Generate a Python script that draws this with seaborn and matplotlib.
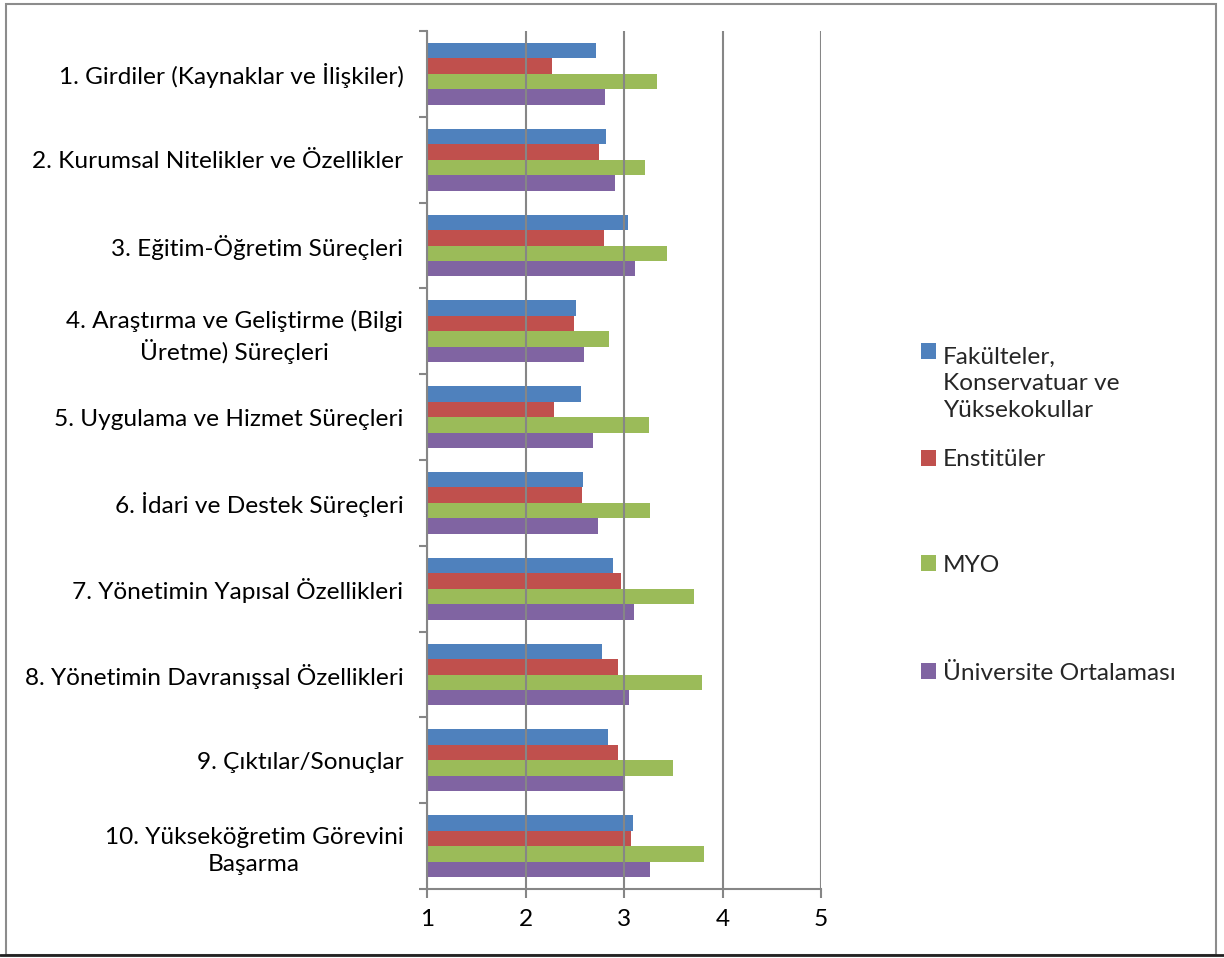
import pandas as pd
import matplotlib
matplotlib.use("Agg")
import matplotlib.pyplot as plt
import matplotlib.patches as mpatches
from matplotlib.lines import Line2D
from matplotlib.legend_handler import HandlerPatch
from matplotlib.ticker import FixedLocator
import seaborn as sns

# data
categories = [
    "1. Girdiler (Kaynaklar ve İlişkiler)",
    "2. Kurumsal Nitelikler ve Özellikler",
    "3. Eğitim-Öğretim Süreçleri",
    "4. Araştırma ve Geliştirme (Bilgi\nÜretme) Süreçleri",
    "5. Uygulama ve Hizmet Süreçleri",
    "6. İdari ve Destek Süreçleri",
    "7. Yönetimin Yapısal Özellikleri",
    "8. Yönetimin Davranışsal Özellikleri",
    "9. Çıktılar/Sonuçlar",
    "10. Yükseköğretim Görevini\nBaşarma",
]
series_names = [
    "Fakülteler,\nKonservatuar ve\nYüksekokullar",
    "Enstitüler",
    "MYO",
    "Üniversite Ortalaması",
]
fakulteler = [2.72, 2.82, 3.04, 2.51, 2.56, 2.58, 2.89, 2.78, 2.84, 3.09]
enstituler = [2.27, 2.75, 2.80, 2.49, 2.29, 2.57, 2.97, 2.94, 2.94, 3.07]
myo = [3.33, 3.21, 3.44, 2.85, 3.25, 3.26, 3.71, 3.79, 3.50, 3.81]
universite = [2.81, 2.91, 3.11, 2.59, 2.69, 2.74, 3.10, 3.05, 3.01, 3.26]
x_ticks = [1, 2, 3, 4, 5]

colors = ["#4F81BD", "#C0504D", "#9BBB59", "#8064A2"]
grid_color = "#868686"
font_size = 17.6
line_gap = 1.34

# long table for seaborn
rows = []
for name, vals in zip(series_names, [fakulteler, enstituler, myo, universite]):
    for cat, v in zip(categories, vals):
        rows.append({"category": cat, "series": name, "value": v})
df = pd.DataFrame(rows)

sns.set_theme(style="white")
plt.rcParams["font.family"] = ["Lato", "DejaVu Sans"]

W, H = 1224, 958
fig = plt.figure(figsize=(W / 100, H / 100), dpi=100)
ax = fig.add_axes([427 / W, 1 - 889 / H, 394 / W, 858 / H])

sns.barplot(data=df, x="value", y="category", hue="series", order=categories,
            hue_order=series_names, palette=colors, orient="h", width=0.72,
            saturation=1, errorbar=None, legend=False, linewidth=0, ax=ax)

ax.set_xlim(1, 5)
ax.set_ylim(len(categories) - 0.5, -0.5)
ax.set_xticks(x_ticks)
ax.set_xlabel("")
ax.set_ylabel("")

ax.xaxis.grid(True, color=grid_color, linewidth=1.5)
ax.yaxis.grid(False)
ax.set_axisbelow(False)

for side in ["top", "right"]:
    ax.spines[side].set_visible(False)
for side in ["left", "bottom"]:
    ax.spines[side].set_color(grid_color)
    ax.spines[side].set_linewidth(1.5)

ax.tick_params(axis="x", bottom=True, direction="out", length=6.5, width=1.5,
               color=grid_color, pad=8, labelsize=font_size, labelcolor="black")
ax.tick_params(axis="y", which="major", left=False, length=0, pad=17,
               labelsize=font_size, labelcolor="black")
ax.yaxis.set_minor_locator(FixedLocator([i - 0.5 for i in range(len(categories) + 1)]))
ax.tick_params(axis="y", which="minor", left=True, direction="out", length=6,
               width=1.5, color=grid_color)
for lbl in ax.get_yticklabels():
    lbl.set_multialignment("center")
    lbl.set_linespacing(line_gap)


# legend: first entry's marker sits on the first text line
def top_line_patch(legend, orig_handle, xdescent, ydescent, width, height, fontsize):
    return mpatches.Rectangle((-xdescent, -ydescent + line_gap * fontsize), width, height)


handles = [c.patches[0] for c in ax.containers]
legend_y = [384, 460, 565, 673]
for i, (h, name) in enumerate(zip(handles, series_names)):
    hmap = {h: HandlerPatch(patch_func=top_line_patch)} if i == 0 else None
    leg = fig.legend([h], [name], loc="center left",
                     bbox_to_anchor=(921 / W, 1 - legend_y[i] / H),
                     frameon=False, borderpad=0, borderaxespad=0,
                     handlelength=0.6, handleheight=0.6, handletextpad=0.3,
                     fontsize=font_size, handler_map=hmap)
    for t in leg.get_texts():
        t.set_linespacing(line_gap)

# chart border like the original
fig.add_artist(mpatches.Rectangle((6 / W, 3 / H), 1210 / W, 951 / H,
                                  transform=fig.transFigure, fill=False,
                                  edgecolor="#8c8c8c", linewidth=1.5))
fig.add_artist(Line2D([0, 1], [3 / H, 3 / H], transform=fig.transFigure,
                      color="#222222", linewidth=2))

fig.savefig("out.png", dpi=100)
